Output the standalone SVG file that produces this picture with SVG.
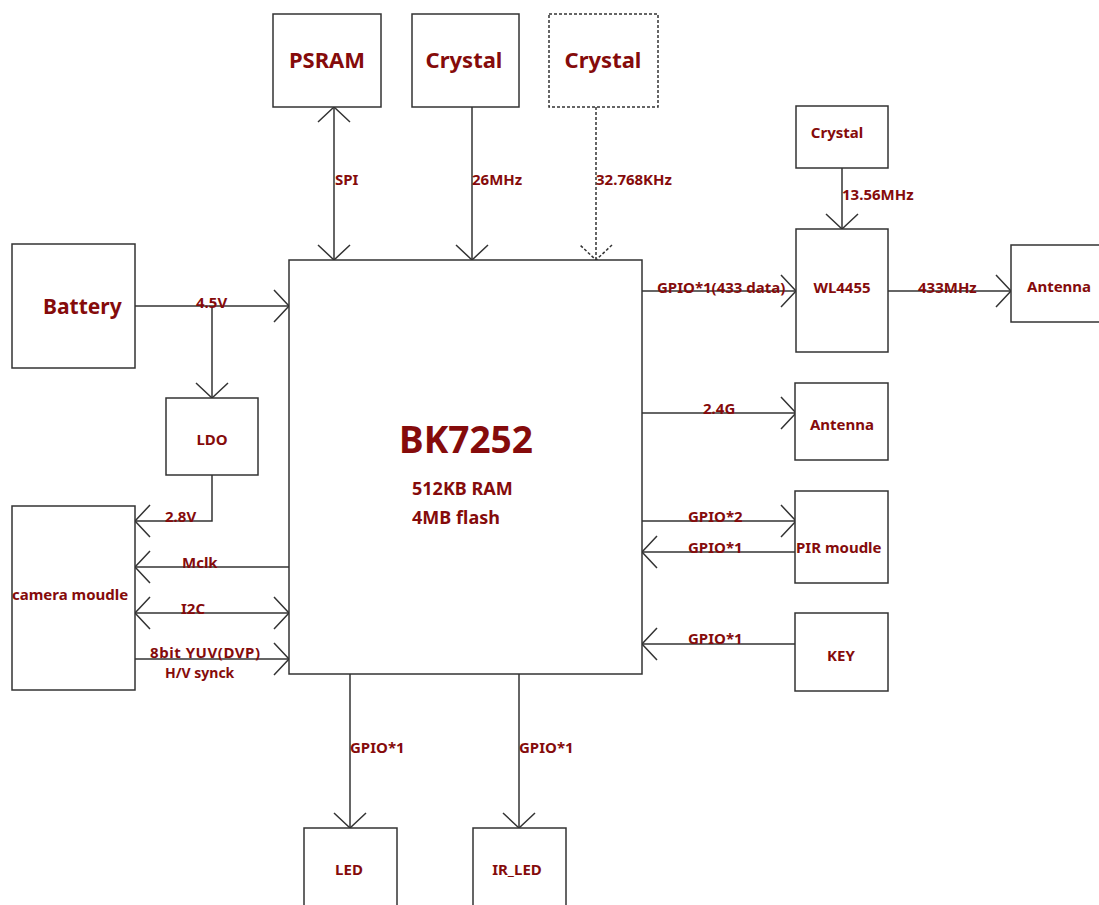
<svg xmlns="http://www.w3.org/2000/svg" width="1099" height="905" viewBox="0 0 1099 905">
<style>
.box{fill:#fff;stroke:#333;stroke-width:1.5}
.dash{stroke-dasharray:3,2}
.ln{fill:none;stroke:#333;stroke-width:1.5}
.ah{marker-end:url(#arr)}
.as{marker-start:url(#arr)}
text{font-family:"Noto Sans","Open Sans","Liberation Sans",sans-serif;font-weight:bold;fill:#850b0b}
.t15{font-size:15px}
.t22{font-size:22px}
.c{text-anchor:middle}
</style>
<defs>
<marker id="arr" viewBox="-20 -20 40 40" refX="0" refY="0" markerWidth="40" markerHeight="40" markerUnits="userSpaceOnUse" orient="auto-start-reverse">
<path d="M-15,-16 L0,0 L-15,16" fill="none" stroke="#333" stroke-width="1.5"/>
</marker>
<marker id="arrd" viewBox="-20 -20 40 40" refX="0" refY="0" markerWidth="40" markerHeight="40" markerUnits="userSpaceOnUse" orient="auto">
<path d="M-15,-16 L0,0 L-15,16" fill="none" stroke="#333" stroke-width="1.5" stroke-dasharray="3,2"/>
</marker>
</defs>
<rect width="1099" height="905" fill="#fff"/>
<g id="connectors">
<line class="ln ah as" x1="334" y1="107" x2="334" y2="260"/>
<line class="ln ah" x1="472" y1="107" x2="472" y2="260"/>
<line class="ln dash" x1="596" y1="107" x2="596" y2="260" marker-end="url(#arrd)"/>
<line class="ln ah" x1="135" y1="306" x2="289" y2="306"/>
<line class="ln ah" x1="212" y1="306" x2="212" y2="398"/>
<polyline class="ln ah" points="212,475 212,521 135,521"/>
<line class="ln ah" x1="289" y1="567" x2="135" y2="567"/>
<line class="ln ah as" x1="135" y1="613" x2="289" y2="613"/>
<line class="ln ah" x1="135" y1="659" x2="289" y2="659"/>
<line class="ln ah" x1="842" y1="168" x2="842" y2="229"/>
<line class="ln ah" x1="642" y1="291" x2="796" y2="291"/>
<line class="ln ah" x1="888" y1="291" x2="1011" y2="291"/>
<line class="ln ah" x1="642" y1="413" x2="796" y2="413"/>
<line class="ln ah" x1="642" y1="521" x2="796" y2="521"/>
<line class="ln ah" x1="796" y1="552" x2="642" y2="552"/>
<line class="ln ah" x1="796" y1="644" x2="642" y2="644"/>
<line class="ln ah" x1="350" y1="674" x2="350" y2="828"/>
<line class="ln ah" x1="519" y1="674" x2="519" y2="828"/>
<text class="t15" x="335" y="185">SPI</text>
<text class="t15" x="472" y="185">26MHz</text>
<text class="t15" x="596" y="185">32.768KHz</text>
<text class="t15" x="842" y="200">13.56MHz</text>
<text class="t15" x="657" y="293">GPIO*1(433 data)</text>
<text class="t15" x="918" y="293">433MHz</text>
<text class="t15" x="703" y="414">2.4G</text>
<text class="t15" x="688" y="522">GPIO*2</text>
<text class="t15" x="688" y="553">GPIO*1</text>
<text class="t15" x="688" y="644">GPIO*1</text>
<text class="t15" x="196" y="308">4.5V</text>
<text class="t15" x="165" y="522">2.8V</text>
<text class="t15" x="182" y="568">Mclk</text>
<text class="t15" x="181" y="614">I2C</text>
<text class="t15" x="150" y="658" textLength="110">8bit YUV(DVP)</text>
<text x="165" y="678" style="font-size:14px">H/V synck</text>
<text class="t15" x="350" y="753">GPIO*1</text>
<text class="t15" x="519" y="753">GPIO*1</text>
</g>
<g id="psram"><rect class="box" x="273" y="14" width="108" height="93"/><text class="t22 c" x="327" y="68">PSRAM</text></g>
<g id="crystal1"><rect class="box" x="412" y="14" width="107" height="93"/><text class="t22 c" x="464" y="68">Crystal</text></g>
<g id="crystal2"><rect class="box dash" x="549" y="14" width="109" height="93"/><text class="t22 c" x="603" y="68">Crystal</text></g>
<g id="bk7252"><rect class="box" x="289" y="260" width="353" height="414"/>
<text class="c" x="466" y="453" style="font-size:37px">BK7252</text>
<text x="412" y="495" style="font-size:18px">512KB RAM</text>
<text x="412" y="524" style="font-size:18px">4MB flash</text></g>
<g id="battery"><rect class="box" x="12" y="244" width="123" height="124"/><text x="43" y="314" style="font-size:21px">Battery</text></g>
<g id="ldo"><rect class="box" x="166" y="398" width="92" height="77"/><text class="t15 c" x="212" y="445">LDO</text></g>
<g id="camera"><rect class="box" x="12" y="506" width="123" height="184"/><text class="t15" x="12" y="600">camera moudle</text></g>
<g id="crystal3"><rect class="box" x="796" y="106" width="92" height="62"/><text class="t15 c" x="837" y="138">Crystal</text></g>
<g id="wl4455"><rect class="box" x="796" y="229" width="92" height="123"/><text class="t15 c" x="842" y="293">WL4455</text></g>
<g id="antenna433"><rect class="box" x="1011" y="245" width="100" height="77"/><text class="t15" x="1027" y="292">Antenna</text></g>
<g id="antenna24"><rect class="box" x="795" y="383" width="93" height="77"/><text class="t15 c" x="842" y="430">Antenna</text></g>
<g id="pir"><rect class="box" x="795" y="491" width="93" height="92"/><text class="t15" x="796" y="553">PIR moudle</text></g>
<g id="key"><rect class="box" x="795" y="613" width="93" height="78"/><text class="t15 c" x="841" y="661">KEY</text></g>
<g id="led"><rect class="box" x="304" y="828" width="93" height="90"/><text class="t15 c" x="349" y="875">LED</text></g>
<g id="irled"><rect class="box" x="473" y="828" width="93" height="90"/><text class="t15 c" x="517" y="875">IR_LED</text></g>
</svg>
